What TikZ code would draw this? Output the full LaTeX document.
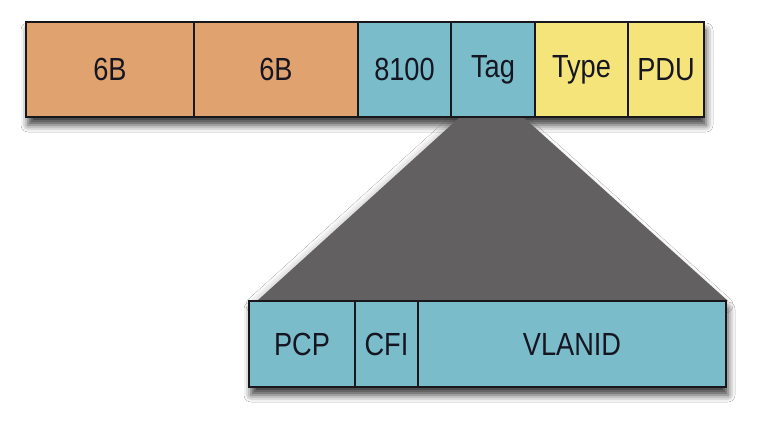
\documentclass[tikz,border=0pt]{standalone}
\usepackage{fontspec}
\setmainfont{Liberation Sans}[FakeStretch=0.85]
\usetikzlibrary{shadows.blur,backgrounds,calc}
\definecolor{fOrange}{RGB}{224,162,110}
\definecolor{fBlue}{RGB}{122,188,202}
\definecolor{fYellow}{RGB}{245,228,122}
\definecolor{fLine}{RGB}{24,24,28}
\definecolor{fGray}{RGB}{98,96,96}
\definecolor{fText}{RGB}{22,22,34}
\tikzset{
  field/.style={draw=fLine, line width=1.8pt, inner sep=0pt, outer sep=0pt,
    text=fText, font=\fontsize{32}{34}\selectfont},
  topfield/.style={field, minimum height=95pt},
  botfield/.style={field, minimum height=86pt},
  rowshadow/.style={blur shadow={shadow xshift=2pt, shadow yshift=-8pt, shadow blur radius=7pt, shadow opacity=75}},
  funnel/.style={fill=fGray, draw=none,
    blur shadow={shadow xshift=-3pt, shadow yshift=-4pt, shadow blur radius=8pt, shadow opacity=35}}
}
\begin{document}
\begin{tikzpicture}[x=1pt,y=-1pt]
\useasboundingbox (0,0) rectangle (762,428);
\node[topfield, fill=fOrange, minimum width=168pt] (da) at (110,69.5) {6B};
\node[topfield, fill=fOrange, minimum width=164pt] (sa) at (276,69.5) {6B};
\node[topfield, fill=fBlue, minimum width=93pt] (tpid) at (404.5,69.5) {8100};
\node[topfield, fill=fBlue, minimum width=84pt] (tag) at (493,69.5) {Tag};
\node[topfield, fill=fYellow, minimum width=93pt] (type) at (581.5,69.5) {Type};
\node[topfield, fill=fYellow, minimum width=76pt] (pdu) at (666,69.5) {PDU};
\node[botfield, fill=fBlue, minimum width=106pt] (pcp) at (302,344) {PCP};
\node[botfield, fill=fBlue, minimum width=63pt] (cfi) at (386.5,344) {CFI};
\node[botfield, fill=fBlue, minimum width=308pt] (vid) at (572,344) {VLANID};
\begin{scope}[on background layer]
\fill[white] (0,0) rectangle (762,428);
\path[rowshadow] (da.north west) rectangle (pdu.south east);
\path[rowshadow] (pcp.north west) rectangle (vid.south east);
\path[funnel] ($(tag.south west)+(9,0)$) -- ($(tag.south east)+(-12,0)$)
  -- ($(vid.north east)+(2,0)$) -- ($(pcp.north west)+(8,0)$) -- cycle;
\end{scope}
\end{tikzpicture}
\end{document}
